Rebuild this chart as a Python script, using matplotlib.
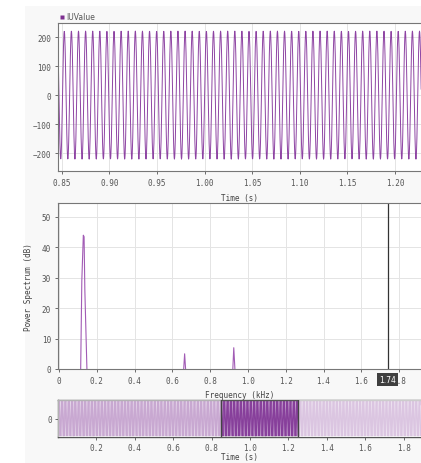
import numpy as np
import matplotlib
matplotlib.use("Agg")
import matplotlib.pyplot as plt
from matplotlib.patches import Rectangle

# signal
signal_freq_hz = 134.0
signal_amp = 221.0
sample_rate = 4000.0
signal_length_s = 2.0

# spectrum peaks (kHz, dB)
peak1_freq = [0.115, 0.121, 0.129, 0.133, 0.137, 0.148]
peak1_db = [0.0, 29.0, 44.0, 43.5, 26.0, 0.0]
peak2_freq = [0.660, 0.665, 0.670]
peak2_db = [0.0, 5.0, 0.0]
peak3_freq = [0.920, 0.925, 0.931]
peak3_db = [0.0, 7.0, 0.0]

cursor_khz = 1.74
sel_start, sel_end = 0.85, 1.25

top_yticks = [-200, -100, 0, 100, 200]
top_xticks = [0.85, 0.90, 0.95, 1.00, 1.05, 1.10, 1.15, 1.20]
spec_yticks = [0, 10, 20, 30, 40, 50]
spec_xticks = [0, 0.2, 0.4, 0.6, 0.8, 1.0, 1.2, 1.4, 1.6, 1.8]
nav_xticks = [0.2, 0.4, 0.6, 0.8, 1.0, 1.2, 1.4, 1.6, 1.8]

purple = "#8e44a3"
grid_c = "#e4e4e4"
spine_c = "#777777"
tick_c = "#555555"
mono = "DejaVu Sans Mono"

t = np.arange(0, signal_length_s, 1.0 / sample_rate)
wave = signal_amp * np.sin(2 * np.pi * signal_freq_hz * t)

W, H = 421, 464
fig = plt.figure(figsize=(W / 100, H / 100), dpi=100, facecolor="white")
fig.patches.append(Rectangle((25 / W, 0), 1 - 25 / W, 1 - 7 / H,
                             transform=fig.transFigure, facecolor="#f8f8f8",
                             edgecolor="none", zorder=-10))


def px_axes(left, top, bottom, right=W):
    return fig.add_axes([left / W, 1 - bottom / H, (right - left) / W, (bottom - top) / H])


def style(ax, pad=3):
    ax.set_facecolor("white")
    for s in ["left", "bottom", "top"]:
        ax.spines[s].set_color(spine_c)
        ax.spines[s].set_linewidth(0.8)
    ax.spines["right"].set_visible(False)
    ax.tick_params(labelsize=5.5, colors=tick_c, length=2, width=0.6, pad=pad)
    for lab in ax.get_xticklabels() + ax.get_yticklabels():
        lab.set_fontfamily(mono)
    ax.grid(True, color=grid_c, linewidth=0.7)
    ax.set_axisbelow(True)


# --- time plot
ax1 = px_axes(58, 24, 172)
ax1.plot(t, wave, color=purple, lw=0.7, label="IUValue")
ax1.set_xlim(0.846, 0.846 + 363 / 952)
ax1.set_ylim(-262, 249)
ax1.set_xticks(top_xticks)
ax1.set_xticklabels([f"{v:.2f}" for v in top_xticks])
ax1.set_yticks(top_yticks)
style(ax1)
ax1.set_xlabel("Time (s)", fontsize=5.5, family=mono, color="#444444", labelpad=4)
ax1.legend(handles=[plt.Line2D([], [], marker="s", color="none", markerfacecolor="#7d2f90",
                               markeredgecolor="none", markersize=3.5)],
           labels=["IUValue"], loc="lower left", bbox_to_anchor=(0.0, 1.0),
           frameon=False, fontsize=5.5, handlelength=0.6, handletextpad=0.3,
           borderaxespad=0.0, borderpad=0.2, labelcolor="#555555")

# --- spectrum plot
ax2 = px_axes(58, 204, 370)
for fx, db in [(peak1_freq, peak1_db), (peak2_freq, peak2_db), (peak3_freq, peak3_db)]:
    ax2.plot(fx, db, color="#a25cb5", lw=0.8)
ax2.set_xlim(-0.005, -0.005 + 363 / 189)
ax2.set_ylim(0, 54.6)
ax2.set_xticks(spec_xticks)
ax2.set_xticklabels(["0"] + [f"{v:.1f}" for v in spec_xticks[1:]])
ax2.set_yticks(spec_yticks)
style(ax2)
ax2.axvline(cursor_khz, color="#333333", lw=0.9)
ax2.text(cursor_khz, -3.4, f"{cursor_khz:.2f}", ha="center", va="center",
         fontsize=5.5, color="white", zorder=10, clip_on=False,
         bbox=dict(boxstyle="square,pad=0.25", facecolor="#3f3f3f", edgecolor="none"))
ax2.set_xlabel("Frequency (kHz)", fontsize=5.5, family=mono, color="#444444", labelpad=4)
ax2.set_ylabel("Power Spectrum (dB)", fontsize=5.5, family=mono, color="#444444", labelpad=6)

# --- navigator
ax3 = px_axes(58, 401, 438)
ax3.plot(t, wave, color="#7a2a90", lw=0.5, alpha=0.9)
ax3.set_xlim(0, 363 / 192)
ax3.set_ylim(-232, 232)
ax3.set_xticks(nav_xticks)
ax3.set_xticklabels([f"{v:.1f}" for v in nav_xticks])
ax3.set_yticks([0])
style(ax3, pad=2)
ax3.grid(False)
ax3.add_patch(Rectangle((0, -232), sel_start, 464, facecolor="white", alpha=0.55,
                        edgecolor="none", zorder=3))
ax3.add_patch(Rectangle((sel_end, -232), 2.0 - sel_end, 464, facecolor="white", alpha=0.7,
                        edgecolor="none", zorder=3))
for x in (sel_start, sel_end):
    ax3.axvline(x, color="#444444", lw=1.0, zorder=4)
for s in ["left", "bottom", "top"]:
    ax3.spines[s].set_color("#555555")
    ax3.spines[s].set_linewidth(1.0)
ax3.set_xlabel("Time (s)", fontsize=5.5, family=mono, color="#444444", labelpad=0.5)

fig.savefig("out.png", dpi=100)
